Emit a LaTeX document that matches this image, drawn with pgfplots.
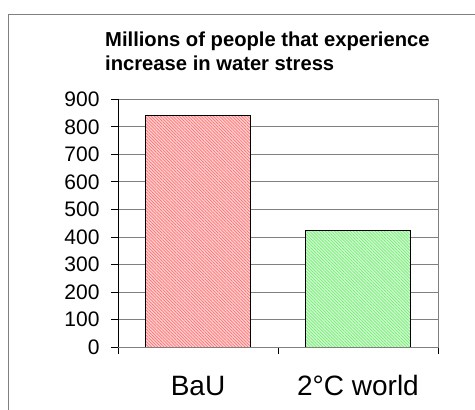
\documentclass[border=0pt]{standalone}
\usepackage{pgfplots}
\pgfplotsset{compat=1.18}
\usepackage{fontspec}
\setmainfont{Liberation Sans}
\usetikzlibrary{patterns.meta}
\definecolor{barred}{RGB}{255,90,90}
\definecolor{bargreen}{RGB}{90,235,90}
\definecolor{gridgray}{RGB}{128,128,128}
\begin{document}
\begin{tikzpicture}
\useasboundingbox (0pt,0pt) rectangle (475pt,410pt);
\draw[gridgray,line width=1pt] (8pt,0pt) -- (8pt,395pt) -- (475pt,395pt);
\node[anchor=base west,align=left,inner sep=0pt,font=\fontsize{20.2}{24}\selectfont\bfseries] at (105pt,339pt) {Millions of people that experience\\increase in water stress};
\begin{axis}[
  at={(118pt,63pt)}, anchor=south west,
  scale only axis, width=320pt, height=247.7pt,
  xmin=-0.5, xmax=1.5, ymin=0, ymax=900,
  ytick={0,100,...,900},
  ymajorgrids, grid style={gridgray, line width=0.8pt},
  axis line style={gridgray, line width=0.8pt},
  tick align=outside, major tick length=7pt,
  tick style={black, line width=0.8pt},
  ytick pos=left,
  xtick={-0.5,0.5,1.5}, xticklabels={},
  xtick pos=bottom,
  extra x ticks={0,1}, extra x tick labels={BaU, 2°C world},
  extra x tick style={grid=none, tick style={draw=none},
    xticklabel style={font=\fontsize{28}{30}\selectfont, anchor=base, yshift=-42pt}},
  /pgf/number format/assume math mode=true,
  yticklabel style={font=\fontsize{21}{24}\selectfont, xshift=-8pt},
  ybar, bar width=105pt, bar shift=0pt,
]
\addplot[draw=black, line width=0.8pt, fill=barred!28,
  postaction={pattern={Lines[angle=-45,distance=2.2pt,line width=0.7pt]}, pattern color=barred!85}]
  coordinates {(0,842)};
\addplot[draw=black, line width=0.8pt, fill=bargreen!28,
  postaction={pattern={Lines[angle=-45,distance=2.2pt,line width=0.7pt]}, pattern color=bargreen!85}]
  coordinates {(1,423)};
\draw[black, line width=0.8pt] (rel axis cs:0,1) -- (rel axis cs:0,0) -- (rel axis cs:1,0);
\end{axis}
\end{tikzpicture}
\end{document}
